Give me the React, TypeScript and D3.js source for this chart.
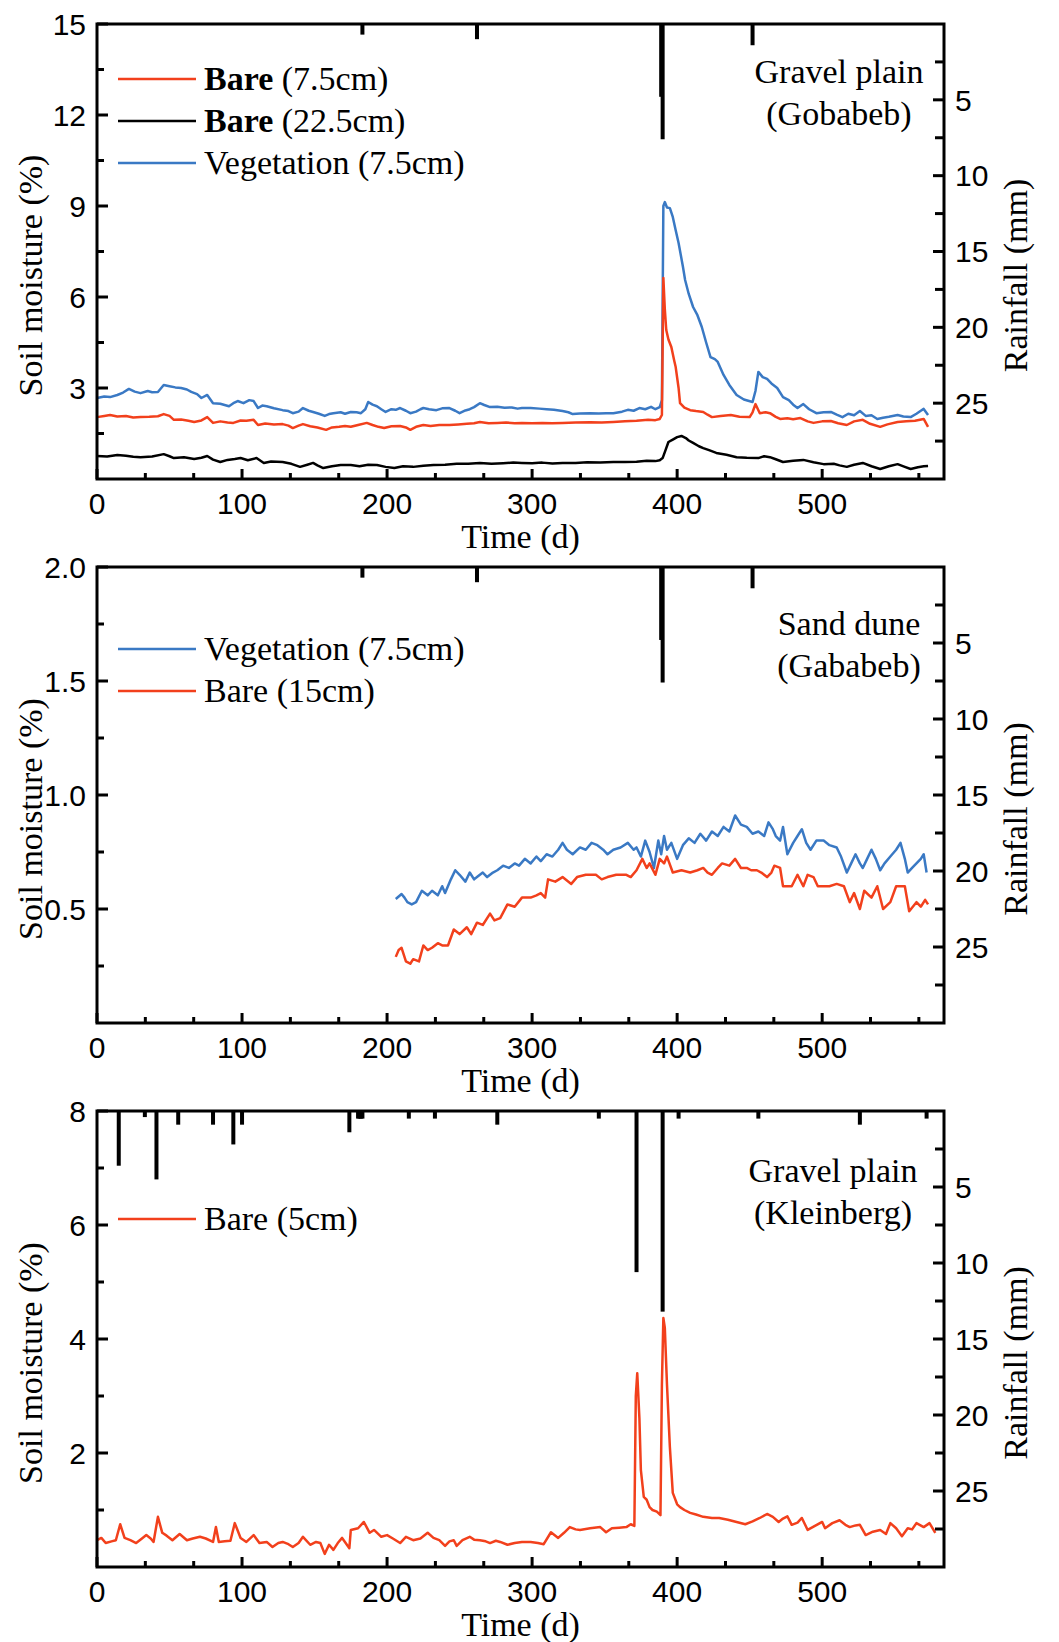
import React from "react";
import * as d3 from "d3";

const W = 1059;
const H = 1642;
const LEFT = 97;
const RIGHT = 944;
const DAY_MAX = 584;
const RED = "#f2401c";
const BLUE = "#3a79c4";
const SERIF = "'Liberation Serif', 'Times New Roman', serif";
const SANS = "'Liberation Sans', Arial, sans-serif";

// ---- gravel plain (Gobabeb) ----
const gobVeg75: [number, number][] = [
  [0, 2.67], [5, 2.72], [9, 2.7], [14, 2.77], [18, 2.85], [22, 2.97], [26, 2.88], [30, 2.83], [35, 2.9], [38, 2.86],
  [42, 2.87], [46, 3.1], [50, 3.06], [54, 3.02], [58, 3.0], [62, 2.95], [65, 2.87], [69, 2.8], [72, 2.67], [76, 2.77],
  [80, 2.5], [85, 2.48], [91, 2.4], [94, 2.5], [97, 2.57], [101, 2.5], [105, 2.6], [108, 2.57], [111, 2.34], [114, 2.42],
  [117, 2.4], [122, 2.33], [128, 2.27], [132, 2.24], [135, 2.17], [139, 2.22], [142, 2.34], [146, 2.25], [149, 2.21],
  [153, 2.15], [157, 2.08], [160, 2.14], [163, 2.17], [168, 2.2], [171, 2.15], [175, 2.21], [179, 2.2], [182, 2.17],
  [185, 2.3], [187, 2.54], [190, 2.45], [193, 2.4], [196, 2.3], [199, 2.21], [203, 2.3], [206, 2.28], [209, 2.34],
  [213, 2.25], [216, 2.17], [220, 2.22], [223, 2.3], [225, 2.34], [229, 2.3], [234, 2.27], [238, 2.33], [243, 2.34],
  [247, 2.25], [250, 2.17], [254, 2.26], [257, 2.3], [260, 2.37], [264, 2.5], [267, 2.44], [271, 2.37], [276, 2.38],
  [281, 2.35], [286, 2.36], [290, 2.32], [293, 2.34], [299, 2.34], [305, 2.32], [310, 2.3], [315, 2.28], [321, 2.24],
  [325, 2.2], [328, 2.14], [333, 2.16], [340, 2.17], [346, 2.16], [351, 2.17], [356, 2.17], [362, 2.22], [366, 2.28],
  [370, 2.25], [374, 2.34], [378, 2.3], [382, 2.38], [385, 2.3], [388, 2.37], [389.5, 2.6], [390.5, 9.0], [391.5, 9.13],
  [393, 8.95], [395, 8.93], [397, 8.64], [399, 8.2], [401, 7.78], [404, 7.0], [405.5, 6.56], [408, 6.1], [411, 5.67],
  [414, 5.4], [417, 5.01], [420, 4.5], [423, 4.02], [426, 3.95], [428, 3.86], [432, 3.43], [436, 3.1], [441, 2.77],
  [446, 2.62], [452, 2.54], [454, 2.9], [456, 3.53], [459, 3.36], [462, 3.3], [465, 3.15], [469, 3.0], [473, 2.7],
  [477, 2.6], [480, 2.45], [483, 2.34], [487, 2.47], [491, 2.3], [496, 2.17], [501, 2.2], [506, 2.21], [510, 2.12],
  [514, 2.04], [518, 2.15], [522, 2.1], [526, 2.24], [530, 2.08], [534, 2.1], [538, 1.98], [542, 2.02], [546, 2.05],
  [552, 2.11], [556, 2.06], [561, 2.04], [565, 2.15], [568, 2.25], [570, 2.31], [573, 2.11],
];
const gobBare75: [number, number][] = [
  [0, 2.04], [5, 2.08], [9, 2.11], [14, 2.06], [20, 2.08], [25, 2.03], [30, 2.04], [36, 2.05], [42, 2.07], [46, 2.14],
  [50, 2.08], [53, 1.95], [58, 1.96], [63, 1.92], [67, 1.88], [72, 1.93], [76, 2.04], [80, 1.85], [85, 1.9], [90, 1.86],
  [94, 1.85], [99, 1.93], [103, 1.92], [108, 1.95], [111, 1.78], [116, 1.83], [122, 1.8], [128, 1.81], [132, 1.76],
  [135, 1.68], [139, 1.76], [142, 1.81], [147, 1.74], [152, 1.7], [158, 1.62], [162, 1.7], [167, 1.72], [171, 1.75],
  [175, 1.72], [180, 1.78], [186, 1.85], [190, 1.78], [194, 1.72], [198, 1.68], [203, 1.74], [209, 1.75], [213, 1.7],
  [216, 1.62], [220, 1.72], [225, 1.78], [230, 1.75], [236, 1.78], [243, 1.78], [249, 1.8], [255, 1.82], [260, 1.84],
  [264, 1.88], [270, 1.84], [276, 1.85], [282, 1.86], [288, 1.84], [293, 1.85], [300, 1.84], [307, 1.85], [314, 1.84],
  [321, 1.85], [330, 1.86], [340, 1.87], [348, 1.86], [356, 1.88], [364, 1.9], [372, 1.92], [380, 1.95], [385, 1.94],
  [388, 1.98], [389.5, 2.11], [390.5, 6.63], [391.5, 5.6], [392.5, 4.91], [394, 4.6], [396, 4.35], [398, 3.9], [399, 3.69],
  [401, 3.0], [402, 2.5], [405, 2.35], [409, 2.27], [413, 2.24], [418, 2.21], [421, 2.12], [424, 2.04], [430, 2.08],
  [437, 2.11], [443, 2.05], [450, 2.04], [452, 2.2], [454, 2.47], [457, 2.17], [461, 2.2], [464, 2.17], [468, 2.05],
  [471, 1.98], [476, 2.0], [480, 1.97], [485, 2.01], [490, 1.9], [494, 1.85], [500, 1.9], [506, 1.91], [511, 1.84],
  [517, 1.78], [522, 1.9], [528, 1.95], [533, 1.82], [540, 1.72], [545, 1.8], [552, 1.88], [558, 1.9], [564, 1.92],
  [570, 1.98], [573, 1.72],
];
const gobBare225: [number, number][] = [
  [0, 0.76], [7, 0.74], [14, 0.79], [20, 0.77], [25, 0.73], [30, 0.72], [38, 0.74], [46, 0.82], [50, 0.75], [53, 0.69],
  [60, 0.72], [67, 0.66], [72, 0.7], [76, 0.76], [80, 0.64], [85, 0.56], [90, 0.63], [95, 0.66], [99, 0.69], [104, 0.62],
  [110, 0.69], [115, 0.53], [120, 0.58], [128, 0.56], [134, 0.5], [140, 0.4], [145, 0.47], [149, 0.53], [152, 0.45],
  [156, 0.36], [162, 0.42], [168, 0.46], [175, 0.46], [181, 0.42], [187, 0.47], [193, 0.46], [199, 0.4], [205, 0.36],
  [211, 0.42], [218, 0.4], [225, 0.44], [232, 0.46], [240, 0.47], [248, 0.5], [256, 0.5], [264, 0.53], [272, 0.5],
  [280, 0.52], [287, 0.54], [293, 0.53], [300, 0.52], [307, 0.54], [314, 0.51], [321, 0.53], [330, 0.53], [338, 0.55],
  [347, 0.54], [356, 0.56], [364, 0.56], [372, 0.57], [379, 0.6], [385, 0.59], [388, 0.62], [390, 0.69], [392, 0.95],
  [394, 1.22], [397, 1.3], [400, 1.38], [403, 1.42], [406, 1.35], [408, 1.27], [411, 1.19], [415, 1.08], [418, 1.02],
  [422, 0.95], [427, 0.86], [434, 0.8], [441, 0.72], [448, 0.7], [456, 0.69], [460, 0.75], [464, 0.72], [468, 0.65],
  [473, 0.56], [480, 0.6], [487, 0.63], [494, 0.55], [501, 0.49], [508, 0.5], [512, 0.45], [517, 0.4], [522, 0.47],
  [528, 0.53], [534, 0.42], [540, 0.33], [546, 0.42], [552, 0.49], [557, 0.4], [561, 0.33], [566, 0.39], [570, 0.42],
  [573, 0.43],
];
const gobRainDay = [183, 262, 389, 390, 452];
const gobRainMm = [0.7, 1.0, 4.8, 7.6, 1.4];

// ---- sand dune (Gobabeb) ----
const dunVeg75: [number, number][] = [
  [206, 0.544], [210, 0.566], [212, 0.55], [214, 0.53], [217, 0.52], [220, 0.53], [224, 0.58], [228, 0.56], [231, 0.58],
  [235, 0.56], [238, 0.6], [240, 0.57], [244, 0.63], [247, 0.67], [250, 0.65], [254, 0.62], [257, 0.66], [260, 0.63],
  [262, 0.64], [266, 0.66], [269, 0.64], [273, 0.66], [276, 0.67], [280, 0.69], [284, 0.68], [288, 0.7], [291, 0.69],
  [295, 0.72], [299, 0.7], [303, 0.73], [306, 0.71], [310, 0.74], [314, 0.73], [318, 0.76], [321, 0.79], [324, 0.76],
  [328, 0.74], [333, 0.77], [337, 0.76], [341, 0.79], [345, 0.78], [349, 0.76], [352, 0.74], [356, 0.76], [361, 0.77],
  [366, 0.79], [370, 0.76], [372, 0.77], [375, 0.73], [378, 0.8], [381, 0.75], [384, 0.68], [387, 0.8], [389, 0.74],
  [391, 0.82], [393, 0.76], [396, 0.79], [400, 0.72], [404, 0.78], [408, 0.81], [412, 0.79], [416, 0.83], [420, 0.8],
  [424, 0.84], [428, 0.82], [432, 0.86], [436, 0.84], [440, 0.91], [444, 0.87], [448, 0.86], [452, 0.83], [456, 0.84],
  [460, 0.82], [463, 0.88], [466, 0.85], [468, 0.82], [471, 0.8], [473, 0.86], [476, 0.74], [480, 0.79], [483, 0.82],
  [486, 0.85], [489, 0.79], [492, 0.76], [496, 0.8], [501, 0.8], [505, 0.78], [510, 0.77], [513, 0.73], [517, 0.66],
  [520, 0.7], [523, 0.74], [526, 0.7], [528, 0.68], [531, 0.72], [534, 0.76], [537, 0.72], [540, 0.67], [543, 0.7],
  [547, 0.73], [551, 0.76], [554, 0.79], [557, 0.72], [559, 0.66], [562, 0.68], [565, 0.7], [568, 0.72], [570, 0.74],
  [572, 0.66],
];
const dunBare15: [number, number][] = [
  [206, 0.29], [208, 0.32], [210, 0.33], [213, 0.27], [216, 0.26], [218, 0.28], [222, 0.27], [225, 0.34], [228, 0.32],
  [231, 0.33], [235, 0.35], [238, 0.34], [242, 0.34], [246, 0.41], [250, 0.39], [255, 0.42], [258, 0.39], [262, 0.44],
  [266, 0.43], [271, 0.48], [274, 0.45], [278, 0.46], [283, 0.52], [288, 0.51], [293, 0.55], [299, 0.55], [303, 0.56],
  [306, 0.57], [309, 0.55], [311, 0.63], [316, 0.62], [321, 0.64], [327, 0.61], [331, 0.64], [337, 0.65], [344, 0.65],
  [348, 0.63], [352, 0.64], [358, 0.65], [365, 0.65], [368, 0.64], [372, 0.67], [376, 0.72], [379, 0.68], [381, 0.7],
  [385, 0.65], [388, 0.72], [391, 0.7], [393, 0.73], [397, 0.66], [403, 0.67], [409, 0.66], [414, 0.67], [418, 0.68],
  [421, 0.66], [424, 0.65], [428, 0.68], [431, 0.7], [436, 0.69], [440, 0.72], [444, 0.68], [448, 0.68], [451, 0.67],
  [455, 0.67], [458, 0.66], [462, 0.64], [465, 0.66], [467, 0.69], [471, 0.68], [473, 0.6], [479, 0.6], [483, 0.65],
  [487, 0.6], [490, 0.65], [494, 0.64], [497, 0.6], [505, 0.6], [510, 0.61], [515, 0.6], [519, 0.53], [522, 0.57],
  [526, 0.5], [529, 0.58], [534, 0.55], [538, 0.6], [542, 0.5], [547, 0.53], [551, 0.6], [557, 0.6], [560, 0.49],
  [565, 0.53], [568, 0.51], [571, 0.54], [573, 0.52],
];
const dunRainDay = [183, 262, 389, 390, 452];
const dunRainMm = [0.7, 1.0, 4.8, 7.6, 1.4];

// ---- gravel plain (Kleinberg) ----
const klBare5: [number, number][] = [
  [0, 0.47], [3, 0.51], [6, 0.42], [10, 0.45], [13, 0.47], [16, 0.75], [19, 0.51], [23, 0.47], [27, 0.42], [31, 0.5],
  [34, 0.56], [37, 0.5], [39, 0.44], [42, 0.88], [45, 0.6], [48, 0.55], [52, 0.47], [57, 0.58], [62, 0.47], [66, 0.5],
  [71, 0.53], [75, 0.5], [80, 0.44], [82, 0.7], [84, 0.44], [88, 0.45], [92, 0.46], [95, 0.77], [99, 0.51], [103, 0.44],
  [108, 0.56], [112, 0.42], [117, 0.44], [121, 0.35], [125, 0.42], [128, 0.44], [132, 0.4], [135, 0.35], [139, 0.42],
  [142, 0.53], [147, 0.39], [151, 0.44], [154, 0.42], [157, 0.23], [160, 0.39], [163, 0.3], [166, 0.42], [169, 0.51],
  [174, 0.33], [175, 0.65], [180, 0.68], [184, 0.79], [188, 0.6], [191, 0.65], [196, 0.53], [200, 0.56], [204, 0.5],
  [209, 0.42], [213, 0.53], [218, 0.47], [223, 0.5], [228, 0.6], [232, 0.51], [236, 0.47], [240, 0.37], [243, 0.45],
  [246, 0.47], [248, 0.37], [252, 0.47], [257, 0.53], [260, 0.48], [264, 0.47], [268, 0.45], [271, 0.42], [275, 0.46],
  [278, 0.44], [283, 0.39], [288, 0.42], [293, 0.44], [299, 0.44], [304, 0.42], [308, 0.4], [313, 0.61], [318, 0.51],
  [322, 0.6], [326, 0.7], [330, 0.66], [333, 0.65], [340, 0.68], [347, 0.7], [351, 0.61], [355, 0.68], [360, 0.69],
  [365, 0.7], [368, 0.75], [370.5, 0.72], [371.5, 3.0], [372.5, 3.4], [374, 2.6], [375, 1.7], [377, 1.23], [379, 1.18],
  [381, 1.05], [383, 1.0], [386, 0.97], [388.5, 0.91], [389.5, 3.2], [390.5, 4.37], [391.5, 4.2], [393, 3.2], [395, 2.1],
  [397, 1.3], [400, 1.1], [402, 1.05], [405, 1.0], [409, 0.95], [413, 0.92], [418, 0.88], [424, 0.86], [429, 0.86],
  [435, 0.83], [441, 0.79], [447, 0.75], [452, 0.8], [457, 0.86], [462, 0.93], [466, 0.88], [470, 0.79], [473, 0.85],
  [476, 0.89], [479, 0.74], [483, 0.78], [486, 0.86], [490, 0.65], [495, 0.72], [500, 0.79], [502, 0.68], [507, 0.77],
  [512, 0.82], [516, 0.74], [519, 0.7], [523, 0.73], [526, 0.74], [530, 0.56], [535, 0.62], [540, 0.65], [544, 0.58],
  [547, 0.77], [551, 0.68], [555, 0.54], [559, 0.68], [562, 0.66], [565, 0.77], [570, 0.7], [574, 0.77], [578, 0.6],
];
const klRainDay = [15, 33, 41, 56, 80, 94, 100, 174, 180, 181, 182, 183, 215, 233, 276, 346, 372, 390, 401, 456, 526, 572];
const klRainMm = [3.6, 0.4, 4.5, 0.9, 0.9, 2.2, 0.9, 1.4, 0.5, 0.5, 0.5, 0.5, 0.5, 0.5, 0.9, 0.5, 10.6, 13.2, 0.5, 0.5, 0.9, 0.5];

const xTicks = [0, 100, 200, 300, 400, 500];
const rainTicks = [5, 10, 15, 20, 25];

type Series = { data: [number, number][]; color: string; label: string; bold?: string };

type PanelProps = {
  top: number;
  bottom: number;
  yMax: number;
  yTicks: number[];
  yStep: number;
  yFmt: (v: number) => string;
  series: Series[];
  legendOrder: number[];
  legendY: number;
  rainDay: number[];
  rainMm: number[];
  site: [string, string];
  siteX: number;
  siteY: number;
};

function Panel(p: PanelProps) {
  const x = d3.scaleLinear().domain([0, DAY_MAX]).range([LEFT, RIGHT]);
  const y = d3.scaleLinear().domain([0, p.yMax]).range([p.bottom, p.top]);
  const r = d3.scaleLinear().domain([0, 30]).range([p.top, p.bottom]);
  const line = d3
    .line<[number, number]>()
    .x(d => x(d[0]))
    .y(d => y(d[1]));

  const xMinor = d3.range(0, DAY_MAX, 100 / 3).filter(v => Math.abs(v % 100) > 1 && Math.abs(v % 100) < 99);
  const yMinor = d3.range(p.yStep / 2, p.yMax, p.yStep);
  const rMinor = d3.range(2.5, 30, 5);
  const midY = (p.top + p.bottom) / 2 + 24;

  return (
    <g>
      {p.series.map((s, i) => (
        <path key={i} d={line(s.data) || ""} fill="none" stroke={s.color} strokeWidth={2.5} strokeLinejoin="round" />
      ))}

      {p.rainDay.map((d, i) => (
        <rect key={i} x={x(d) - 2} y={p.top} width={4} height={r(p.rainMm[i]) - p.top} fill="#000" />
      ))}

      <rect x={LEFT} y={p.top} width={RIGHT - LEFT} height={p.bottom - p.top} fill="none" stroke="#000" strokeWidth={3} />

      {xTicks.map(t => (
        <g key={t}>
          <line x1={x(t)} x2={x(t)} y1={p.bottom} y2={p.bottom - 10} stroke="#000" strokeWidth={3} />
          <text x={x(t)} y={p.bottom + 35} textAnchor="middle" fontFamily={SANS} fontSize={30}>
            {t}
          </text>
        </g>
      ))}
      {xMinor.map(t => (
        <line key={t} x1={x(t)} x2={x(t)} y1={p.bottom} y2={p.bottom - 6} stroke="#000" strokeWidth={3} />
      ))}

      {p.yTicks.map(t => (
        <g key={t}>
          <line x1={LEFT} x2={LEFT + 11} y1={y(t)} y2={y(t)} stroke="#000" strokeWidth={3} />
          <text x={86} y={y(t)} dy="0.36em" textAnchor="end" fontFamily={SANS} fontSize={30}>
            {p.yFmt(t)}
          </text>
        </g>
      ))}
      {yMinor.map(t => (
        <line key={t} x1={LEFT} x2={LEFT + 7} y1={y(t)} y2={y(t)} stroke="#000" strokeWidth={3} />
      ))}

      {rainTicks.map(t => (
        <g key={t}>
          <line x1={RIGHT} x2={RIGHT - 11} y1={r(t)} y2={r(t)} stroke="#000" strokeWidth={3} />
          <text x={955} y={r(t)} dy="0.36em" fontFamily={SANS} fontSize={30}>
            {t}
          </text>
        </g>
      ))}
      {rMinor.map(t => (
        <line key={t} x1={RIGHT} x2={RIGHT - 9} y1={r(t)} y2={r(t)} stroke="#000" strokeWidth={3} />
      ))}

      <text x={(LEFT + RIGHT) / 2} y={p.bottom + 69} textAnchor="middle" fontFamily={SERIF} fontSize={34}>
        Time (d)
      </text>
      <text
        transform={`translate(30,${midY}) rotate(-90)`}
        textAnchor="middle"
        dy="0.35em"
        fontFamily={SERIF}
        fontSize={34}
      >
        Soil moisture (%)
      </text>
      <text
        transform={`translate(1015,${midY}) rotate(-90)`}
        textAnchor="middle"
        dy="0.35em"
        fontFamily={SERIF}
        fontSize={34}
      >
        Rainfall (mm)
      </text>

      {p.legendOrder.map((si, k) => {
        const s = p.series[si];
        const ly = p.legendY + k * 42;
        return (
          <g key={k}>
            <line x1={118} x2={196} y1={ly - 11} y2={ly - 11} stroke={s.color} strokeWidth={2.5} />
            <text x={204} y={ly} fontFamily={SERIF} fontSize={34}>
              {s.bold ? <tspan fontWeight="bold">{s.bold}</tspan> : null}
              {s.label}
            </text>
          </g>
        );
      })}

      <text x={p.siteX} y={p.siteY} textAnchor="middle" fontFamily={SERIF} fontSize={34}>
        {p.site[0]}
      </text>
      <text x={p.siteX} y={p.siteY + 42} textAnchor="middle" fontFamily={SERIF} fontSize={34}>
        {p.site[1]}
      </text>
    </g>
  );
}

export default function App() {
  return (
    <svg
      width={W}
      height={H}
      viewBox={`0 0 ${W} ${H}`}
      style={{ position: "absolute", left: 0, top: 0, background: "#fff" }}
    >
      <rect width={W} height={H} fill="#fff" />
      <Panel
        top={24}
        bottom={479}
        yMax={15}
        yTicks={[3, 6, 9, 12, 15]}
        yStep={3}
        yFmt={v => String(v)}
        series={[
          { data: gobVeg75, color: BLUE, label: "Vegetation (7.5cm)" },
          { data: gobBare75, color: RED, label: " (7.5cm)", bold: "Bare" },
          { data: gobBare225, color: "#000", label: " (22.5cm)", bold: "Bare" },
        ]}
        legendOrder={[1, 2, 0]}
        legendY={90}
        rainDay={gobRainDay}
        rainMm={gobRainMm}
        site={["Gravel plain", "(Gobabeb)"]}
        siteX={839}
        siteY={83}
      />
      <Panel
        top={567}
        bottom={1023}
        yMax={2}
        yTicks={[0.5, 1.0, 1.5, 2.0]}
        yStep={0.5}
        yFmt={v => v.toFixed(1)}
        series={[
          { data: dunVeg75, color: BLUE, label: "Vegetation (7.5cm)" },
          { data: dunBare15, color: RED, label: "Bare (15cm)" },
        ]}
        legendOrder={[0, 1]}
        legendY={660}
        rainDay={dunRainDay}
        rainMm={dunRainMm}
        site={["Sand dune", "(Gababeb)"]}
        siteX={849}
        siteY={635}
      />
      <Panel
        top={1111}
        bottom={1567}
        yMax={8}
        yTicks={[2, 4, 6, 8]}
        yStep={2}
        yFmt={v => String(v)}
        series={[{ data: klBare5, color: RED, label: "Bare (5cm)" }]}
        legendOrder={[0]}
        legendY={1230}
        rainDay={klRainDay}
        rainMm={klRainMm}
        site={["Gravel plain", "(Kleinberg)"]}
        siteX={833}
        siteY={1182}
      />
    </svg>
  );
}
